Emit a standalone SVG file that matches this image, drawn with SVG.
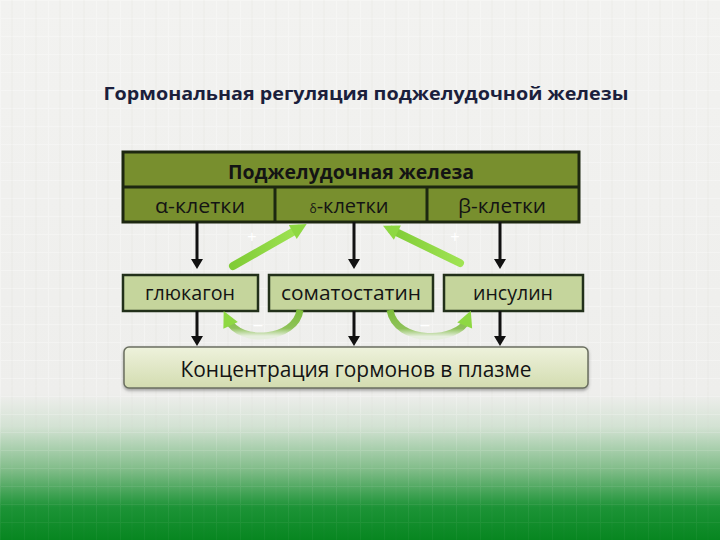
<svg xmlns="http://www.w3.org/2000/svg" width="720" height="540" viewBox="0 0 720 540">
<defs>
<linearGradient id="bg" x1="0" y1="0" x2="0" y2="1">
<stop offset="0" stop-color="#f2f2f0"/>
<stop offset="0.73" stop-color="#eeeeec"/>
<stop offset="0.79" stop-color="#d3e2d3"/>
<stop offset="0.87" stop-color="#80bc88"/>
<stop offset="0.94" stop-color="#1c9336"/>
<stop offset="1" stop-color="#078620"/>
</linearGradient>
<pattern id="grid" width="24" height="18" patternUnits="userSpaceOnUse">
<path d="M0 0.5H24M0.5 0V18" stroke="#ffffff" stroke-width="1" opacity="0.3"/>
<path d="M12 0V18" stroke="#d4d4d0" stroke-width="1" opacity="0.2"/>
</pattern>
<linearGradient id="fade" x1="0" y1="0" x2="0" y2="1">
<stop offset="0" stop-color="#fff"/>
<stop offset="0.7" stop-color="#fff"/>
<stop offset="0.85" stop-color="#555"/>
<stop offset="1" stop-color="#222"/>
</linearGradient>
<mask id="gridMask"><rect width="720" height="540" fill="url(#fade)"/></mask>
<linearGradient id="bottomBox" x1="0" y1="0" x2="0" y2="1">
<stop offset="0" stop-color="#eef2dc"/>
<stop offset="1" stop-color="#d3dcb0"/>
</linearGradient>
<linearGradient id="gArrow" x1="0" y1="0" x2="1" y2="0">
<stop offset="0" stop-color="#80cc36"/>
<stop offset="1" stop-color="#9fe352"/>
</linearGradient>
<linearGradient id="curveL" x1="0" y1="0" x2="0" y2="1">
<stop offset="0" stop-color="#7cbd3a"/>
<stop offset="0.7" stop-color="#8fc25a"/>
<stop offset="1" stop-color="#e6eede"/>
</linearGradient>
<marker id="blkv" markerWidth="12" markerHeight="10" refX="6" refY="4" markerUnits="userSpaceOnUse" viewBox="0 0 12 10">
<path d="M0 0 L6 10 L12 0 Z" fill="#111"/>
</marker>
<marker id="grn" markerWidth="18" markerHeight="18" refX="7" refY="9" orient="auto" markerUnits="userSpaceOnUse" viewBox="0 0 18 18">
<path d="M1 1 L17 9 L1 17 Z" fill="#8ed842"/>
</marker>
<filter id="sh" x="-5%" y="-20%" width="110%" height="150%">
<feDropShadow dx="0" dy="2" stdDeviation="1.5" flood-color="#555" flood-opacity="0.5"/>
</filter>
</defs>
<style>
.t{font-family:"Open Sans","Liberation Sans",sans-serif;fill:#141414;text-anchor:middle}
.hb{fill:#c5d59c;stroke:#22301a;stroke-width:2.5}
.olive{fill:#788f2e;stroke:#1d2710;stroke-width:3}
.v{stroke:#111;stroke-width:3;fill:none;marker-end:url(#blkv)}
.g{stroke:url(#gArrow);stroke-width:8;stroke-linecap:round;fill:none;marker-end:url(#grn)}
.c{stroke:url(#curveL);stroke-width:7;fill:none}
.sign{font-family:"Liberation Sans",sans-serif;fill:#ffffff;font-size:16px;text-anchor:middle}
</style>
<rect width="720" height="540" fill="url(#bg)"/>
<rect width="720" height="540" fill="url(#grid)" mask="url(#gridMask)"/>

<text x="366" y="100" font-family="'Open Sans','Liberation Sans',sans-serif" font-weight="bold" font-size="18" fill="#1b1f3c" text-anchor="middle" textLength="525" lengthAdjust="spacingAndGlyphs">Гормональная регуляция поджелудочной железы</text>

<g id="pancreas">
<rect class="olive" x="123" y="152" width="456" height="70"/>
<line x1="123" y1="187" x2="579" y2="187" stroke="#1d2710" stroke-width="3"/>
<line x1="275" y1="187" x2="275" y2="222" stroke="#1d2710" stroke-width="3"/>
<line x1="427" y1="187" x2="427" y2="222" stroke="#1d2710" stroke-width="3"/>
<text class="t" x="351" y="179" font-size="20" font-weight="bold" textLength="246" lengthAdjust="spacingAndGlyphs">Поджелудочная железа</text>
<text class="t" x="200" y="213" font-size="20" textLength="90" lengthAdjust="spacingAndGlyphs">α-клетки</text>
<text class="t" x="349" y="213" font-size="20"><tspan font-size="12">δ</tspan>-клетки</text>
<text class="t" x="502" y="213" font-size="20" textLength="88" lengthAdjust="spacingAndGlyphs">β-клетки</text>
</g>

<g id="glucagon">
<rect class="hb" x="123" y="275" width="135" height="36"/>
<text class="t" x="190" y="300" font-size="20" textLength="90" lengthAdjust="spacingAndGlyphs">глюкагон</text>
</g>
<g id="somatostatin">
<rect class="hb" x="269" y="275" width="164" height="36"/>
<text class="t" x="351" y="300" font-size="20" textLength="140" lengthAdjust="spacingAndGlyphs">соматостатин</text>
</g>
<g id="insulin">
<rect class="hb" x="444" y="275" width="139" height="36"/>
<text class="t" x="513" y="300" font-size="20" textLength="80" lengthAdjust="spacingAndGlyphs">инсулин</text>
</g>

<g id="plasma">
<rect x="124" y="347" width="464" height="41" rx="5" fill="url(#bottomBox)" stroke="#6b6f60" stroke-width="1.5" filter="url(#sh)"/>
<text class="t" x="356" y="377" font-size="21" textLength="351" lengthAdjust="spacingAndGlyphs">Концентрация гормонов в плазме</text>
</g>

<g id="connectors">
<line class="v" x1="197" y1="222" x2="197" y2="263"/>
<line class="v" x1="354" y1="222" x2="354" y2="263"/>
<line class="v" x1="500" y1="222" x2="500" y2="263"/>
<line class="v" x1="197" y1="311" x2="197" y2="340"/>
<line class="v" x1="354" y1="311" x2="354" y2="340"/>
<line class="v" x1="500" y1="311" x2="500" y2="340"/>
<line class="g" x1="233" y1="266" x2="298" y2="229"/>
<line class="g" x1="460" y1="263" x2="392" y2="230"/>
<path class="c" d="M300 310 C296 340 240 345 228 320" marker-end="url(#grn)"/>
<path class="c" d="M390 310 C396 345 458 342 467 320" marker-end="url(#grn)"/>
<text class="sign" x="252" y="242">+</text>
<text class="sign" x="455" y="242">+</text>
<text class="sign" x="258" y="330">–</text>
<text class="sign" x="425" y="330">–</text>
</g>
</svg>
